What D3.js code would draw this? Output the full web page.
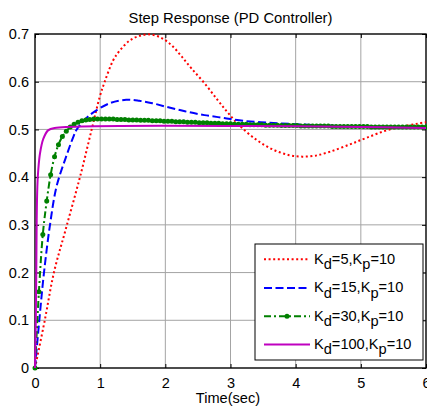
<!DOCTYPE html>
<html>
<head>
<meta charset="utf-8">
<script src="https://cdn.jsdelivr.net/npm/d3@7"></script>
<style>
  body { margin: 0; background: #fff; }
  svg { display: block; font-family: "Liberation Sans", Arial, sans-serif; }
</style>
</head>
<body>
<svg id="chart" width="427" height="409"></svg>
<script>
// data: [time (sec), output]
const kd5 = [
  [0, 0], [0.15, 0.10], [0.29, 0.20], [0.47, 0.29], [0.69, 0.40], [0.87, 0.50],
  [0.995, 0.569], [1.07, 0.60], [1.20, 0.645], [1.30, 0.665], [1.45, 0.686],
  [1.60, 0.696], [1.78, 0.699], [1.95, 0.691], [2.10, 0.676], [2.25, 0.653],
  [2.40, 0.628], [2.60, 0.597], [2.80, 0.562], [2.96, 0.535], [3.14, 0.508],
  [3.40, 0.478], [3.65, 0.458], [3.90, 0.446], [4.10, 0.443], [4.30, 0.445],
  [4.52, 0.453], [4.82, 0.468], [5.08, 0.482], [5.44, 0.500], [5.95, 0.514], [6.0, 0.515]
];
const kd15 = [
  [0, 0], [0.066, 0.10], [0.138, 0.20], [0.23, 0.30], [0.33, 0.38], [0.47, 0.44],
  [0.59, 0.485], [0.64, 0.50], [0.84, 0.53], [1.15, 0.555], [1.40, 0.562],
  [1.60, 0.560], [1.80, 0.555], [2.00, 0.548], [2.30, 0.538], [2.60, 0.530],
  [2.90, 0.524], [3.20, 0.518], [3.60, 0.514], [4.00, 0.511], [4.50, 0.508],
  [5.20, 0.505], [6.0, 0.504]
];
const kd30 = [
  [0, 0], [0.06, 0.16], [0.12, 0.28], [0.18, 0.35], [0.24, 0.405], [0.30, 0.443],
  [0.36, 0.468], [0.42, 0.485], [0.48, 0.496], [0.54, 0.505], [0.60, 0.511],
  [0.66, 0.515], [0.72, 0.518], [0.78, 0.520], [0.84, 0.521], [0.90, 0.522],
  [0.96, 0.522], [1.02, 0.522], [1.08, 0.522], [1.14, 0.522], [1.20, 0.522],
  [1.26, 0.521], [1.32, 0.521], [1.38, 0.521], [1.44, 0.520], [1.50, 0.520],
  [1.56, 0.520], [1.62, 0.519], [1.68, 0.519], [1.74, 0.519], [1.80, 0.518],
  [1.86, 0.518], [1.92, 0.518], [1.98, 0.517], [2.04, 0.517], [2.10, 0.517],
  [2.16, 0.516], [2.22, 0.516], [2.28, 0.516], [2.34, 0.515], [2.40, 0.515],
  [2.46, 0.515], [2.52, 0.514], [2.58, 0.514], [2.64, 0.514], [2.70, 0.513],
  [2.76, 0.513], [2.82, 0.513], [2.88, 0.512], [2.94, 0.512], [3.00, 0.512],
  [3.06, 0.511], [3.12, 0.511], [3.18, 0.511], [3.24, 0.511], [3.30, 0.510],
  [3.36, 0.510], [3.42, 0.510], [3.48, 0.510], [3.54, 0.509], [3.60, 0.509],
  [3.66, 0.509], [3.72, 0.509], [3.78, 0.508], [3.84, 0.508], [3.90, 0.508],
  [3.96, 0.508], [4.02, 0.508], [4.08, 0.507], [4.14, 0.507], [4.20, 0.507],
  [4.26, 0.507], [4.32, 0.507], [4.38, 0.507], [4.44, 0.507], [4.50, 0.507],
  [4.56, 0.506], [4.62, 0.506], [4.68, 0.506], [4.74, 0.506], [4.80, 0.506],
  [4.86, 0.506], [4.92, 0.506], [4.98, 0.506], [5.04, 0.506], [5.10, 0.506],
  [5.16, 0.505], [5.22, 0.505], [5.28, 0.505], [5.34, 0.505], [5.40, 0.505],
  [5.46, 0.505], [5.52, 0.505], [5.58, 0.505], [5.64, 0.505], [5.70, 0.505],
  [5.76, 0.505], [5.82, 0.505], [5.88, 0.505], [5.94, 0.505], [6.00, 0.505]
];
const kd100 = [
  [0, 0], [0.012, 0.10], [0.02, 0.205], [0.026, 0.31], [0.036, 0.38], [0.05, 0.415],
  [0.077, 0.45], [0.127, 0.48], [0.2, 0.498], [0.3, 0.503], [6.0, 0.503]
];

const xTicks = [0, 1, 2, 3, 4, 5, 6];
const yTicks = [0, 0.1, 0.2, 0.3, 0.4, 0.5, 0.6, 0.7];
const legendKd = ["5", "15", "30", "100"];
const legendKp = ["10", "10", "10", "10"];

const svg = d3.select("#chart");
const plotLeft = 35, plotRight = 426, plotTop = 34, plotBottom = 368;

const x = d3.scaleLinear().domain([0, 6]).range([plotLeft, plotRight]);
const y = d3.scaleLinear().domain([0, 0.7]).range([plotBottom, plotTop]);

// grid
svg.append("g").selectAll("line").data(xTicks.slice(1, -1)).join("line")
  .attr("x1", d => x(d)).attr("x2", d => x(d)).attr("y1", plotTop).attr("y2", plotBottom)
  .attr("stroke", "#a4a4a4").attr("stroke-width", 1);
svg.append("g").selectAll("line").data(yTicks.slice(1, -1)).join("line")
  .attr("x1", plotLeft).attr("x2", plotRight).attr("y1", d => y(d)).attr("y2", d => y(d))
  .attr("stroke", "#a4a4a4").attr("stroke-width", 1);

// axes with inward ticks
function styleAxis(g) {
  g.select(".domain").remove();
  g.selectAll("text").attr("font-size", 14.5).attr("fill", "#000")
    .attr("font-family", "'Liberation Sans', Arial, sans-serif");
  g.selectAll("line").attr("stroke", "#000");
}
svg.append("g").attr("transform", `translate(0,${plotBottom})`)
  .call(d3.axisBottom(x).tickValues(xTicks).tickSize(-4).tickPadding(10).tickFormat(d3.format("d")))
  .call(styleAxis);
svg.append("g").attr("transform", `translate(0,${plotTop})`)
  .call(d3.axisTop(x).tickValues(xTicks).tickSize(-4).tickFormat(""))
  .call(styleAxis);
svg.append("g").attr("transform", `translate(${plotLeft},0)`)
  .call(d3.axisLeft(y).tickValues(yTicks).tickSize(-4).tickPadding(6).tickFormat(d => d === 0 ? "0" : d3.format(".1f")(d)))
  .call(styleAxis);
svg.append("g").attr("transform", `translate(${plotRight},0)`)
  .call(d3.axisRight(y).tickValues(yTicks).tickSize(-4).tickFormat(""))
  .call(styleAxis);

svg.append("rect").attr("x", plotLeft).attr("y", plotTop)
  .attr("width", plotRight - plotLeft).attr("height", plotBottom - plotTop)
  .attr("fill", "none").attr("stroke", "#000").attr("stroke-width", 1.4);

// titles
svg.append("text").attr("x", 230.5).attr("y", 22.5).attr("text-anchor", "middle")
  .attr("font-size", 14.8).text("Step Response (PD Controller)");
svg.append("text").attr("x", 228).attr("y", 403).attr("text-anchor", "middle")
  .attr("font-size", 14.6).text("Time(sec)");

// series
const styles = [
  { color: "#ff0000", dash: "2,2.6", width: 2 },
  { color: "#0000ff", dash: "8,3.5", width: 2 },
  { color: "#008000", dash: "7,3,2,3", width: 2, marker: true },
  { color: "#bf00bf", dash: null, width: 2 }
];
const seriesData = [kd5, kd15, kd30, kd100];

const line = d3.line().x(d => x(d[0])).y(d => y(d[1])).curve(d3.curveCatmullRom.alpha(0.5));

seriesData.forEach((data, i) => {
  const s = styles[i];
  svg.append("path").datum(data)
    .attr("d", line)
    .attr("fill", "none")
    .attr("stroke", s.color)
    .attr("stroke-width", s.width)
    .attr("stroke-dasharray", s.dash);
  if (s.marker) {
    svg.append("g").selectAll("circle").data(data).join("circle")
      .attr("cx", d => x(d[0])).attr("cy", d => y(d[1])).attr("r", 2.5)
      .attr("fill", s.color);
  }
});

// legend
const lg = svg.append("g");
lg.append("rect").attr("x", 255).attr("y", 244).attr("width", 168).attr("height", 116)
  .attr("fill", "#fff").attr("stroke", "#000").attr("stroke-width", 1);
const rowY = [259.3, 288, 316.3, 344.5];
legendKd.forEach((kd, i) => {
  const s = styles[i];
  const ry = rowY[i];
  lg.append("line").attr("x1", 264).attr("x2", 310).attr("y1", ry).attr("y2", ry)
    .attr("stroke", s.color).attr("stroke-width", s.width).attr("stroke-dasharray", s.dash);
  if (s.marker) {
    lg.append("circle").attr("cx", 287).attr("cy", ry).attr("r", 2.5).attr("fill", s.color);
  }
  const t = lg.append("text").attr("x", 314).attr("y", ry + 4.3).attr("font-size", 14.6);
  t.append("tspan").text("K");
  t.append("tspan").attr("dy", 5.5).text("d");
  t.append("tspan").attr("dy", -5.5).text("=" + kd + ",K");
  t.append("tspan").attr("dy", 5.5).text("p");
  t.append("tspan").attr("dy", -5.5).text("=" + legendKp[i]);
});
</script>
</body>
</html>
